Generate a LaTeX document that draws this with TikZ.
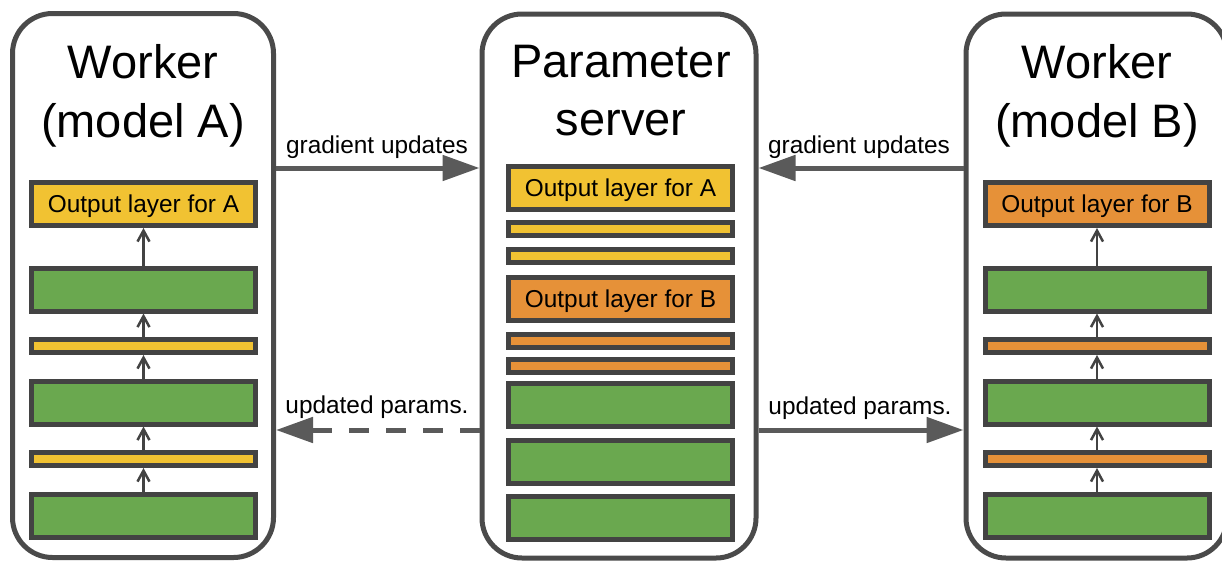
\documentclass[tikz,border=0pt]{standalone}
\usepackage{fontspec}
\setmainfont{Liberation Sans}
\usetikzlibrary{arrows.meta}
\definecolor{yel}{HTML}{F1C232}
\definecolor{org}{HTML}{E69138}
\definecolor{grn}{HTML}{6AA84F}
\definecolor{laygray}{HTML}{434343}
\definecolor{boxgray}{HTML}{4A4A4A}
\definecolor{arrgray}{HTML}{5A5A5A}
\newcommand\mytitlefont{\fontsize{47}{56}\selectfont}
\newcommand\mylblfont{\fontsize{24.4}{29}\selectfont}
\begin{document}
\begin{tikzpicture}[x=1pt,y=-1pt,
  panel/.style={draw=boxgray, line width=5pt, rounded corners=40pt, inner sep=0pt, fill=white},
  layer/.style={draw=laygray, line width=5pt, minimum width=224pt, inner sep=0pt, font=\mylblfont},
  biglayer/.style={layer, minimum height=43pt, text height=17.5pt, text depth=0pt},
  thinlayer/.style={layer, minimum height=13pt},
  title/.style={anchor=base, font=\mytitlefont, inner sep=0pt},
  lbl/.style={anchor=base, font=\mylblfont, inner sep=0pt},
  bigarr/.style={draw=arrgray, line width=5pt, -{Triangle[length=37pt,width=25pt]}},
  smallarr/.style={draw=laygray, line width=2.5pt, -{Straight Barb[length=11pt,width=12pt,line width=2.5pt]}}
]
\clip (0,0) rectangle (1222,562);
\fill[white] (0,0) rectangle (1222,562);

% panels
\node[panel, minimum width=261pt, minimum height=544pt] (wA) at (143,285.5) {};
\node[panel, minimum width=274pt, minimum height=544pt] (ps) at (619,286) {};
\node[panel, minimum width=261pt, minimum height=544pt] (wB) at (1096.5,286) {};

% titles
\node[title] (tA1) at (143,78) {Worker};
\node[title] (tA2) at (143,137) {(model A)};
\node[title] (tP1) at (621,77) {Parameter};
\node[title] (tP2) at (621,135) {server};
\node[title] (tB1) at (1097,78) {Worker};
\node[title] (tB2) at (1097,137) {(model B)};

% worker A layers
\node[biglayer, fill=yel] (aO) at (143.5,204) {Output layer for A};
\node[biglayer, fill=grn] (aG1) at (143.5,289.5) {};
\node[thinlayer, fill=yel] (aY1) at (143.5,346) {};
\node[biglayer, fill=grn] (aG2) at (143.5,402.5) {};
\node[thinlayer, fill=yel] (aY2) at (143.5,459) {};
\node[biglayer, fill=grn] (aG3) at (143.5,516) {};

% parameter server layers
\node[biglayer, fill=yel] (pOA) at (620.5,187.5) {Output layer for A};
\node[thinlayer, fill=yel] (pY1) at (620.5,229) {};
\node[thinlayer, fill=yel] (pY2) at (620.5,256) {};
\node[biglayer, fill=org] (pOB) at (620.5,299) {Output layer for B};
\node[thinlayer, fill=org] (pR1) at (620.5,340.5) {};
\node[thinlayer, fill=org] (pR2) at (620.5,366) {};
\node[biglayer, fill=grn] (pG1) at (620.5,405) {};
\node[biglayer, fill=grn] (pG2) at (620.5,461.5) {};
\node[biglayer, fill=grn] (pG3) at (620.5,517.5) {};

% worker B layers
\node[biglayer, fill=org] (bO) at (1097,204) {Output layer for B};
\node[biglayer, fill=grn] (bG1) at (1097,289.5) {};
\node[thinlayer, fill=org] (bR1) at (1097,346) {};
\node[biglayer, fill=grn] (bG2) at (1097,402.5) {};
\node[thinlayer, fill=org] (bR2) at (1097,459) {};
\node[biglayer, fill=grn] (bG3) at (1097,516) {};

% small arrows
\draw[smallarr] (aG1.north) -- (aO.south);
\draw[smallarr] (aY1.north) -- (aG1.south);
\draw[smallarr] (aG2.north) -- (aY1.south);
\draw[smallarr] (aY2.north) -- (aG2.south);
\draw[smallarr] (aG3.north) -- (aY2.south);
\draw[smallarr] (bG1.north) -- (bO.south);
\draw[smallarr] (bR1.north) -- (bG1.south);
\draw[smallarr] (bG2.north) -- (bR1.south);
\draw[smallarr] (bR2.north) -- (bG2.south);
\draw[smallarr] (bG3.north) -- (bR2.south);

% connector heights
\coordinate (gy) at (0,168);
\coordinate (uy) at (0,430);

% big arrows
\draw[bigarr] (wA.east |- gy) -- (ps.west |- gy);
\draw[bigarr] (wB.west |- gy) -- (ps.east |- gy);
\draw[bigarr, dash pattern=on 20pt off 17pt] (ps.west |- uy) -- (wA.east |- uy);
\draw[bigarr] (ps.east |- uy) -- (wB.west |- uy);

% labels
\node[lbl] (lg1) at (377,153) {gradient updates};
\node[lbl] (lg2) at (859,153) {gradient updates};
\node[lbl] (lu1) at (377,413) {updated params.};
\node[lbl] (lu2) at (860,414) {updated params.};
\end{tikzpicture}
\end{document}
